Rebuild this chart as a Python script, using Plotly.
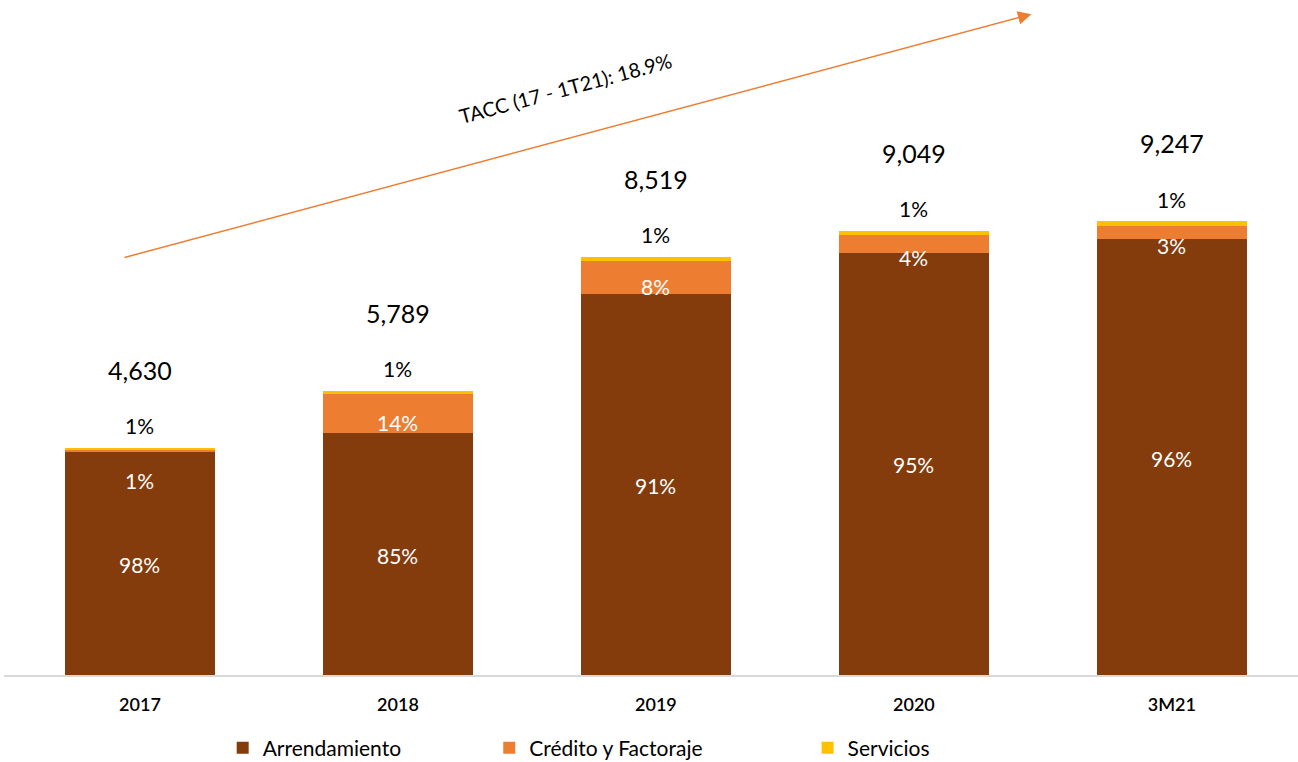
import plotly.graph_objects as go

categories = ["2017", "2018", "2019", "2020", "3M21"]
totals = [4630, 5789, 8519, 9049, 9247]
arrendamiento = [4537, 4921, 7752, 8597, 8877]
credito = [46, 810, 682, 362, 277]
servicios = [46, 58, 85, 90, 92]
pct_arr = ["98%", "85%", "91%", "95%", "96%"]
pct_cred = ["1%", "14%", "8%", "4%", "3%"]
pct_serv = ["1%", "1%", "1%", "1%", "1%"]
total_labels = ["4,630", "5,789", "8,519", "9,049", "9,247"]
tacc_text = "TACC (17 - 1T21): 18.9%"

C_ARR = "#843C0C"
C_CRED = "#ED7D31"
C_SERV = "#FFC000"
FONT = "Lato"

fig = go.Figure()
fig.add_trace(go.Bar(name="Arrendamiento", x=categories, y=arrendamiento, marker_color=C_ARR,
                     marker_line_width=0, legend="legend2"))
fig.add_trace(go.Bar(name="Crédito y Factoraje", x=categories, y=credito, marker_color=C_CRED,
                     marker_line_width=0, legend="legend3"))
fig.add_trace(go.Bar(name="Servicios", x=categories, y=servicios, marker_color=C_SERV,
                     marker_line_width=0, legend="legend4"))

ann = []
for i, c in enumerate(categories):
    ann.append(dict(x=i, y=arrendamiento[i] / 2, text=pct_arr[i], showarrow=False,
                    font=dict(color="white", size=21, family=FONT), yshift=-1))
    small = credito[i] < 0.02 * totals[i]
    ann.append(dict(x=i, y=arrendamiento[i] + credito[i] / 2, text=pct_cred[i], showarrow=False,
                    font=dict(color="white", size=21, family=FONT),
                    yshift=-29 if small else (-9 if credito[i] > 0.06 * totals[i] else -13)))
    ann.append(dict(x=i, y=totals[i], text=pct_serv[i], showarrow=False,
                    font=dict(color="black", size=21, family=FONT), yshift=22))
    ann.append(dict(x=i, y=totals[i], text=total_labels[i], showarrow=False,
                    font=dict(color="black", size=25, family=FONT), yshift=78))

ann.append(dict(xref="x domain", yref="y domain", axref="x domain", ayref="y domain",
                x=0.794, y=0.979, ax=0.092, ay=0.618, text="", showarrow=True,
                arrowhead=2, arrowsize=1.8, arrowwidth=1.5, arrowcolor=C_CRED))
ann.append(dict(xref="x domain", yref="y domain", x=0.434, y=0.869, text=tacc_text, showarrow=False,
                xanchor="center", yanchor="middle",
                textangle=-15, font=dict(color="black", size=20, family=FONT)))

leg_common = dict(orientation="h", yanchor="top", y=-0.078, xanchor="left",
                  font=dict(size=21, family=FONT), itemwidth=30, bgcolor="rgba(0,0,0,0)")

fig.update_layout(
    barmode="stack",
    bargap=0.42,
    width=1298, height=762,
    margin=dict(l=4, r=0, t=0, b=87, autoexpand=False),
    plot_bgcolor="white", paper_bgcolor="white",
    font=dict(family=FONT, color="black"),
    annotations=ann,
    showlegend=True,
    legend2=dict(leg_common, x=0.169),
    legend3=dict(leg_common, x=0.375),
    legend4=dict(leg_common, x=0.621),
    xaxis=dict(type="category", range=[-0.527, 4.489], showline=True, linecolor="#D9D9D9", linewidth=2,
               ticks="", ticklabelstandoff=12,
               tickfont=dict(size=18, family=FONT, color="black", weight=600)),
    yaxis=dict(range=[0, 13750], visible=False, showgrid=False),
    hovermode=False,
)
fig.write_html("out.html", config={"displayModeBar": False},
               post_script="document.body.style.margin='0px';")
